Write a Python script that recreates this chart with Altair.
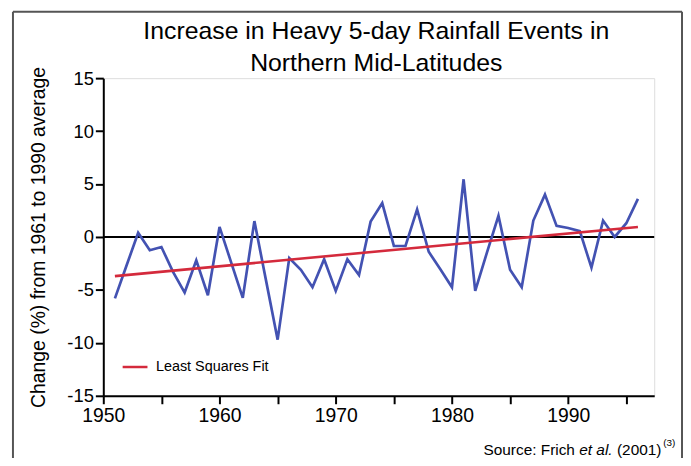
import altair as alt
import pandas as pd

# ---- data ----
years = list(range(1951, 1997))
change = [-5.8, -2.7, 0.4, -1.25, -0.95, -3.3, -5.25, -2.2, -5.5, 0.95,
          -2.4, -5.75, 1.5, -4.1, -9.7, -2.0, -3.1, -4.75, -2.1, -5.1,
          -2.1, -3.6, 1.45, 3.2, -0.85, -0.85, 2.6, -1.4, -3.05, -4.75,
          5.45, -5.1, -1.5, 2.0, -3.1, -4.75, 1.55, 4.0, 1.05, 0.85,
          0.55, -2.9, 1.55, 0.0, 1.3, 3.6]
fit_years = [1951, 1996]
fit_change = [-3.7, 0.95]
fit_label = "Least Squares Fit"
x_ticks = list(range(1950, 1996, 5))
y_ticks = [-15, -10, -5, 0, 5, 10, 15]
title_lines = ["Increase in Heavy 5-day Rainfall Events in", "Northern Mid-Latitudes"]
y_title = "Change (%) from 1961 to 1990 average"
source_parts = ["Source: Frich", "et al.", "(2001)", "(3)"]

FONT = "Liberation Sans"
BLUE = "#4352b2"
RED = "#d42a3c"

data = pd.DataFrame({"year": years, "change": change})
fit = pd.DataFrame({"year": fit_years, "change": fit_change, "series": [fit_label] * len(fit_years)})
one = pd.DataFrame({"a": [0]})

x_scale = alt.Scale(domain=[1950, 1997.4], nice=False, zero=False)
y_scale = alt.Scale(domain=[-15, 15], nice=False, zero=False)

x_axis = alt.Axis(values=x_ticks, format="d",
                  labelExpr="datum.value % 10 == 0 ? datum.label : ''",
                  title=None, grid=False, domainColor="black", domainWidth=2,
                  tickColor="black", tickWidth=2, tickSize=8,
                  labelFont=FONT, labelFontSize=19.5, labelColor="black",
                  labelPadding=3, labelFlush=False, labelOverlap=False)
y_axis = alt.Axis(values=y_ticks, title=y_title, grid=False,
                  labelExpr="'' + datum.value",
                  domainColor="black", domainWidth=2,
                  tickColor="black", tickWidth=2, tickSize=8,
                  labelFont=FONT, labelFontSize=18.5, labelColor="black",
                  labelPadding=2, labelFlush=False, labelOverlap=False,
                  titleFont=FONT, titleFontSize=19.5, titleFontWeight="normal",
                  titleColor="black", titleX=-55, titleBaseline="bottom")

X = alt.X("year:Q", scale=x_scale, axis=x_axis)
Y = alt.Y("change:Q", scale=y_scale, axis=y_axis)

zero = alt.Chart(one).mark_rule(color="black", strokeWidth=2).encode(
    y=alt.datum(0, scale=y_scale)
)

series = alt.Chart(data).mark_line(color=BLUE, strokeWidth=2.7).encode(x=X, y=Y)

fit_line = alt.Chart(fit).mark_line(strokeWidth=2.6).encode(
    x=X, y=Y,
    color=alt.Color("series:N",
                    scale=alt.Scale(domain=[fit_label], range=[RED]),
                    legend=alt.Legend(orient="none", legendX=18, legendY=277,
                                      title=None, symbolType="stroke",
                                      symbolSize=625, symbolStrokeWidth=2.5,
                                      symbolStrokeColor=RED,
                                      labelFont=FONT, labelFontSize=14.5,
                                      labelColor="black", labelOffset=7,
                                      padding=0))
)

frame_color = "#555555"
frame_top = alt.Chart(one).mark_rule(color=frame_color, strokeWidth=2).encode(
    x=alt.value(-91), x2=alt.value(583), y=alt.value(-67))
frame_left = alt.Chart(one).mark_rule(color=frame_color, strokeWidth=2).encode(
    x=alt.value(-91), y=alt.value(-67), y2=alt.value(400))
frame_right = alt.Chart(one).mark_rule(color=frame_color, strokeWidth=2).encode(
    x=alt.value(583), y=alt.value(-67), y2=alt.value(400))

title1 = alt.Chart(one).mark_text(font=FONT, fontSize=25, color="black", align="center",
                                  baseline="alphabetic").encode(
    x=alt.value(275), y=alt.value(-39), text=alt.value(title_lines[0]))
title2 = alt.Chart(one).mark_text(font=FONT, fontSize=25, color="black", align="center",
                                  baseline="alphabetic").encode(
    x=alt.value(275), y=alt.value(-7), text=alt.value(title_lines[1]))

src_kw = dict(font=FONT, color="black", align="left", baseline="alphabetic")
src1 = alt.Chart(one).mark_text(fontSize=15.5, **src_kw).encode(
    x=alt.value(383), y=alt.value(380), text=alt.value(source_parts[0]))
src2 = alt.Chart(one).mark_text(fontSize=15.5, fontStyle="italic", **src_kw).encode(
    x=alt.value(479.5), y=alt.value(380), text=alt.value(source_parts[1]))
src3 = alt.Chart(one).mark_text(fontSize=15.5, **src_kw).encode(
    x=alt.value(517.5), y=alt.value(380), text=alt.value(source_parts[2]))
src4 = alt.Chart(one).mark_text(fontSize=10, **src_kw).encode(
    x=alt.value(564), y=alt.value(371), text=alt.value(source_parts[3]))

chart = alt.layer(
    frame_top, frame_left, frame_right, title1, title2, zero, series, fit_line,
    src1, src2, src3, src4
).properties(
    width=555, height=320,
    autosize=alt.AutoSizeParams(type="none"),
    padding={"left": 96, "top": 69, "right": 29, "bottom": 61},
).configure_view(stroke=None).configure(background="white")

chart.save("out.html", embed_options={"renderer": "svg", "actions": False})
